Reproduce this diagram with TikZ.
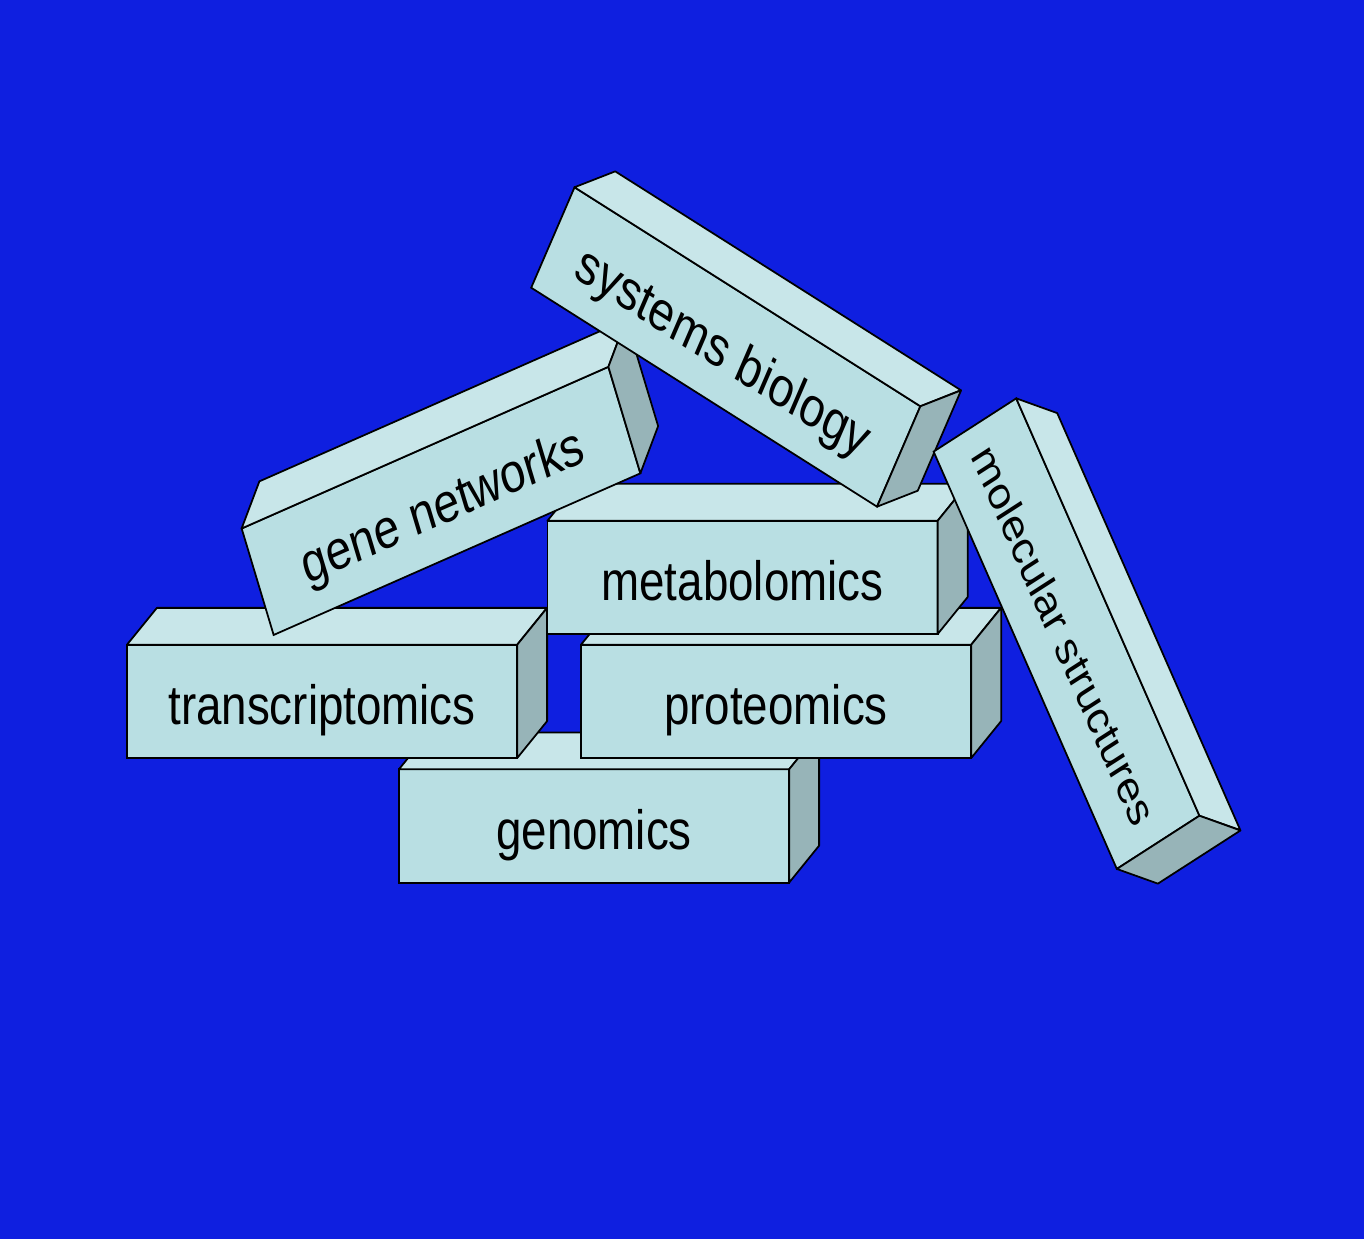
\documentclass[tikz,border=0pt]{standalone}
\usepackage{fontspec}
\usepackage{tikz}
\usetikzlibrary{positioning}

\newfontfamily\briquefont{Liberation Sans}

\definecolor{fondbleu}{HTML}{0F1FE0}
\definecolor{faceavant}{HTML}{B9DFE3}
\definecolor{facedessus}{HTML}{C8E6E9}
\definecolor{facecote}{HTML}{97B4B8}

% Une brique : [options], nom, centre, angle, texte
\newcommand{\brique}[5][]{%
    \begin{scope}[shift={#3}, rotate=#4]
        \node (#2) [brick, #1] at (0,0) {#5};
        \filldraw [dessus] (#2.north west) -- ++(30,30.5) -- ++(390,0) -- (#2.north east) -- cycle;
        \filldraw [cote] (#2.north east) -- ++(30,30.5) -- ++(0,-93.5) -- (#2.south east) -- cycle;
    \end{scope}}

\begin{document}
\begin{tikzpicture}[
        % Unités en pixels, diapositive 4:3 étirée verticalement
        x=0.01cm, y=0.01cm, yscale=1.2111,
        % Face avant avec le texte
        brick/.style = {
            rectangle,
            draw=black,
            fill=faceavant,
            line width=0.5pt,
            minimum width=3.9cm,
            minimum height=0.935cm,
            inner sep=0pt,
            outer sep=0pt,
            text height=0.38cm,
            text depth=0pt,
            font=\briquefont\fontsize{13pt}{15pt}\selectfont,
            transform shape
        },
        % Texte plus petit pour la brique penchée
        petit/.style = {font=\briquefont\fontsize{11pt}{13pt}\selectfont, text height=0.33cm},
        % Faces du dessus et de côté
        dessus/.style = {draw=black, fill=facedessus, line width=0.5pt, line join=round},
        cote/.style = {draw=black, fill=facecote, line width=0.5pt, line join=round}
    ]

        % 1. Fond
        \fill [fondbleu] (0,0) rectangle (1364,1023);

        % 2. Briques, de l'arrière vers l'avant
        \brique{gen}{(594,341)}{0}{genomics}
        \brique{trans}{(322,443.8)}{0}{transcriptomics}
        \brique{prot}{(776,443.8)}{0}{proteomics}
        \brique{meta}{(742.5,546.2)}{0}{metabolomics}
        \brique{reseau}{(441,609.4)}{20}{gene networks}
        \brique{sysbio}{(725.75,736.5)}{-27.6}{systems biology}
        \brique[petit]{molec}{(1066.5,499.8)}{-62}{molecular structures}

    \end{tikzpicture}
\end{document}
